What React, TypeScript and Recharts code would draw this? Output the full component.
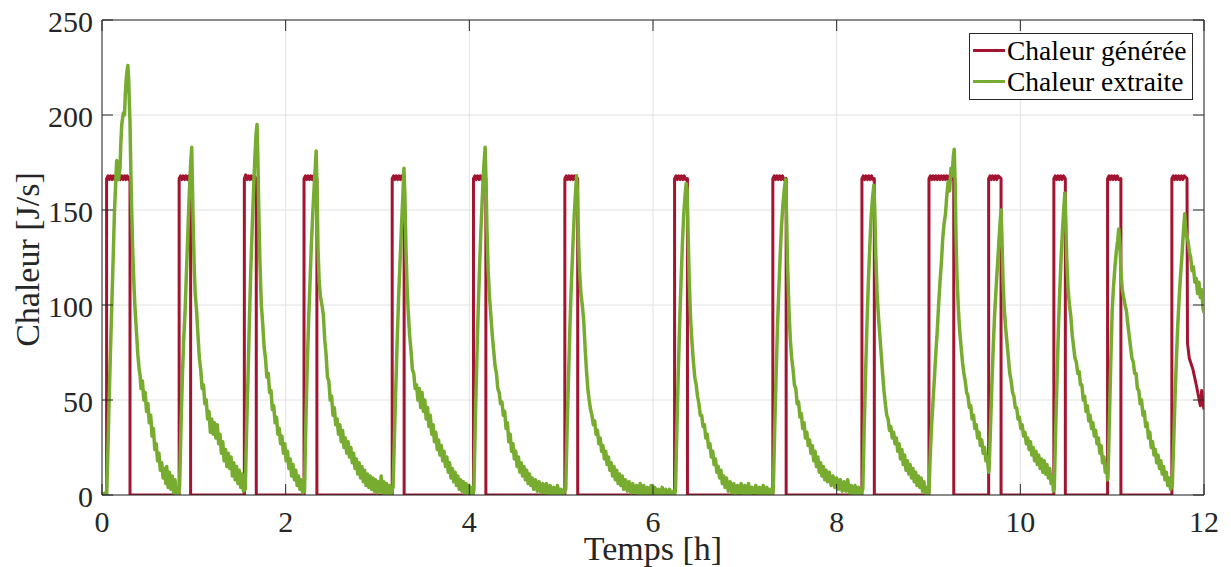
import React from "react";
import {
  LineChart,
  Line,
  XAxis,
  YAxis,
  CartesianGrid,
  ReferenceLine,
  Legend,
  Label,
} from "recharts";

// ---------- tick labels ----------
const timeTicks = [0, 2, 4, 6, 8, 10, 12];
const heatTicks = [0, 50, 100, 150, 200, 250];

// ---------- series: Chaleur générée [h, J/s] ----------
const generatedHeat: [number, number][] = [
  [0, 0], [0.05, 0], [0.05, 166.5], [0.065, 168], [0.08, 166], [0.095, 168], [0.11, 166], [0.125, 168], [0.14, 166],
  [0.155, 168], [0.17, 166], [0.185, 168], [0.2, 166], [0.215, 168], [0.23, 166], [0.245, 168], [0.26, 166],
  [0.275, 168], [0.29, 166], [0.305, 167], [0.305, 0],
  [0.84, 0], [0.84, 166.5], [0.855, 168], [0.87, 166], [0.885, 168], [0.9, 166], [0.915, 168], [0.93, 166],
  [0.945, 168], [0.965, 166.5], [0.965, 0],
  [1.55, 0], [1.55, 166.5], [1.565, 168.5], [1.58, 166], [1.595, 168], [1.61, 166], [1.625, 168], [1.64, 166],
  [1.655, 168], [1.68, 166.5], [1.68, 0],
  [2.2, 0], [2.2, 166.5], [2.215, 168], [2.23, 166], [2.245, 168], [2.26, 166], [2.275, 168], [2.29, 166],
  [2.305, 168], [2.32, 166], [2.34, 166.5], [2.34, 0],
  [3.16, 0], [3.16, 166.5], [3.175, 168], [3.19, 166], [3.205, 168], [3.22, 166], [3.235, 168], [3.25, 166],
  [3.265, 168], [3.29, 166.5], [3.29, 0],
  [4.045, 0], [4.045, 166.5], [4.06, 168], [4.075, 166], [4.09, 168], [4.105, 166], [4.12, 168], [4.135, 166],
  [4.15, 168], [4.165, 166], [4.18, 166.5], [4.18, 0],
  [5.04, 0], [5.04, 166.5], [5.055, 168], [5.07, 166], [5.085, 168], [5.1, 166], [5.115, 168], [5.13, 166],
  [5.145, 168], [5.16, 166], [5.18, 166.5], [5.18, 0],
  [6.235, 0], [6.235, 166.5], [6.25, 168], [6.265, 166], [6.28, 168], [6.295, 166], [6.31, 168], [6.325, 166],
  [6.34, 168], [6.355, 166], [6.375, 166.5], [6.375, 0],
  [7.305, 0], [7.305, 166.5], [7.32, 168], [7.335, 166], [7.35, 168], [7.365, 166], [7.38, 168], [7.395, 166],
  [7.41, 168], [7.425, 166], [7.45, 166.5], [7.45, 0],
  [8.275, 0], [8.275, 166.5], [8.29, 168], [8.305, 166], [8.32, 168], [8.335, 166], [8.35, 168], [8.365, 166],
  [8.38, 168], [8.395, 166], [8.41, 166.5], [8.41, 0],
  [9.005, 0], [9.005, 166.5], [9.02, 168], [9.035, 166], [9.05, 168], [9.065, 166], [9.08, 168], [9.095, 166],
  [9.11, 168], [9.125, 166], [9.14, 168], [9.155, 166], [9.17, 168], [9.185, 166], [9.2, 168], [9.215, 166],
  [9.23, 168], [9.245, 166], [9.26, 168], [9.275, 166.5], [9.275, 0],
  [9.655, 0], [9.655, 166.5], [9.67, 168], [9.685, 166], [9.7, 168], [9.715, 166], [9.73, 168], [9.745, 166],
  [9.76, 168], [9.79, 166.5], [9.79, 0],
  [10.365, 0], [10.365, 166.5], [10.38, 168], [10.395, 166], [10.41, 168], [10.425, 166], [10.44, 168],
  [10.455, 166], [10.47, 168], [10.49, 166.5], [10.49, 0],
  [10.95, 0], [10.95, 166.5], [10.965, 168], [10.98, 166], [10.995, 168], [11.01, 166], [11.025, 168],
  [11.04, 166], [11.055, 168], [11.07, 166], [11.095, 166.5], [11.095, 0],
  [11.65, 0], [11.65, 166.5], [11.665, 168], [11.68, 166], [11.695, 168], [11.71, 166], [11.725, 168],
  [11.74, 166], [11.755, 168], [11.77, 166], [11.785, 168], [11.815, 166.5], [11.82, 80], [11.84, 72],
  [11.88, 66], [11.92, 57], [11.96, 47], [11.975, 55], [11.99, 48], [12, 45],
];

// ---------- series: Chaleur extraite [h, J/s], one array per cycle ----------
const extracted1: [number, number][] = [
  [0, 0], [0.03, 1], [0.05, 0], [0.06, 15], [0.075, 45], [0.09, 72], [0.105, 97], [0.12, 122], [0.135, 148],
  [0.15, 165], [0.16, 176], [0.17, 170], [0.18, 166], [0.196, 172], [0.205, 185], [0.215, 195], [0.232, 201],
  [0.245, 200], [0.255, 212], [0.265, 220], [0.275, 224], [0.282, 226], [0.29, 219], [0.298, 206], [0.305, 196],
  [0.315, 168], [0.323, 150], [0.335, 128], [0.35, 108], [0.36, 98], [0.375, 86], [0.39, 74], [0.405, 66],
  [0.415, 63], [0.425, 56], [0.44, 60], [0.455, 50], [0.47, 54], [0.485, 44], [0.5, 48], [0.515, 38], [0.53, 42],
  [0.545, 31], [0.56, 35], [0.575, 24], [0.59, 27], [0.605, 18], [0.62, 22], [0.635, 13], [0.65, 17], [0.665, 9],
  [0.68, 14], [0.695, 6], [0.705, 15], [0.72, 4], [0.735, 12], [0.75, 3], [0.765, 10], [0.78, 1], [0.795, 8],
  [0.81, 0], [0.825, 4], [0.835, 0],
];
const extracted2: [number, number][] = [
  [0.845, 5], [0.86, 35], [0.875, 62], [0.89, 82], [0.905, 97], [0.92, 118], [0.935, 138], [0.95, 158], [0.965, 174],
  [0.977, 183], [0.985, 162], [0.995, 138], [1.005, 118], [1.015, 106], [1.03, 97], [1.045, 84], [1.06, 72],
  [1.075, 66], [1.09, 56], [1.105, 58], [1.12, 48], [1.135, 50], [1.15, 40], [1.165, 44], [1.18, 33], [1.195, 40],
  [1.21, 32], [1.225, 38], [1.24, 30], [1.255, 37], [1.27, 27], [1.285, 32], [1.3, 22], [1.315, 28], [1.33, 18],
  [1.345, 24], [1.36, 15], [1.375, 22], [1.39, 14], [1.405, 20], [1.42, 10], [1.435, 17], [1.45, 8], [1.465, 15],
  [1.48, 6], [1.495, 13], [1.51, 4], [1.525, 11], [1.54, 2], [1.55, 6],
];
const extracted3: [number, number][] = [
  [1.56, 3], [1.575, 35], [1.59, 62], [1.605, 92], [1.62, 118], [1.635, 140], [1.65, 160], [1.665, 178], [1.678, 190],
  [1.688, 195], [1.697, 178], [1.707, 150], [1.72, 122], [1.735, 100], [1.75, 90], [1.765, 78], [1.78, 72],
  [1.795, 62], [1.81, 64], [1.825, 54], [1.84, 55], [1.855, 45], [1.87, 47], [1.885, 38], [1.9, 41], [1.915, 32],
  [1.93, 35], [1.945, 27], [1.96, 31], [1.975, 22], [1.99, 27], [2.005, 18], [2.02, 23], [2.035, 14], [2.05, 19],
  [2.065, 10], [2.08, 16], [2.095, 8], [2.11, 13], [2.125, 5], [2.14, 10], [2.155, 3], [2.17, 8], [2.185, 1], [2.2, 4],
];
const extracted4: [number, number][] = [
  [2.205, 2], [2.22, 38], [2.235, 68], [2.25, 92], [2.265, 112], [2.28, 132], [2.295, 148], [2.31, 162], [2.322, 172],
  [2.332, 181], [2.342, 160], [2.352, 130], [2.365, 112], [2.38, 104], [2.395, 100], [2.41, 95], [2.425, 82],
  [2.44, 74], [2.455, 62], [2.47, 60], [2.485, 50], [2.5, 52], [2.515, 42], [2.53, 46], [2.545, 37], [2.56, 40],
  [2.575, 32], [2.59, 37], [2.605, 28], [2.62, 34], [2.635, 25], [2.65, 30], [2.665, 22], [2.68, 28], [2.695, 20],
  [2.71, 25], [2.725, 17], [2.74, 22], [2.755, 14], [2.77, 19], [2.785, 11], [2.8, 17], [2.815, 9], [2.83, 15],
  [2.845, 7], [2.86, 13], [2.875, 5], [2.89, 11], [2.905, 4], [2.92, 10], [2.935, 3], [2.95, 9], [2.965, 2],
  [2.98, 8], [2.995, 1], [3.01, 7], [3.025, 2], [3.04, 10], [3.055, 1], [3.07, 7], [3.085, 0], [3.1, 6],
  [3.115, 0], [3.13, 5], [3.145, 0], [3.16, 3],
];
const extracted5: [number, number][] = [
  [3.17, 4], [3.185, 32], [3.2, 58], [3.215, 82], [3.23, 104], [3.245, 122], [3.26, 140], [3.275, 156], [3.288, 172],
  [3.298, 158], [3.31, 130], [3.322, 110], [3.335, 96], [3.35, 84], [3.365, 76], [3.38, 66], [3.395, 64], [3.41, 56],
  [3.425, 58], [3.44, 50], [3.455, 56], [3.47, 46], [3.485, 54], [3.5, 44], [3.515, 50], [3.53, 40], [3.545, 46],
  [3.56, 36], [3.575, 42], [3.59, 32], [3.605, 37], [3.62, 28], [3.635, 33], [3.65, 24], [3.665, 29], [3.68, 21],
  [3.695, 26], [3.71, 18], [3.725, 23], [3.74, 15], [3.755, 20], [3.77, 12], [3.785, 17], [3.8, 9], [3.815, 14],
  [3.83, 7], [3.845, 12], [3.86, 5], [3.875, 10], [3.89, 3], [3.905, 8], [3.92, 2], [3.935, 7], [3.95, 1],
  [3.965, 6], [3.98, 0], [3.995, 5], [4.01, 0], [4.025, 4], [4.04, 0],
];
const extracted6: [number, number][] = [
  [4.05, 3], [4.065, 38], [4.08, 68], [4.095, 95], [4.11, 118], [4.125, 138], [4.14, 155], [4.152, 168], [4.162, 176],
  [4.172, 183], [4.182, 165], [4.192, 140], [4.205, 118], [4.22, 104], [4.235, 94], [4.25, 84], [4.265, 76],
  [4.28, 68], [4.295, 64], [4.31, 56], [4.325, 54], [4.34, 48], [4.355, 49], [4.37, 42], [4.385, 44], [4.4, 35],
  [4.415, 38], [4.43, 28], [4.445, 32], [4.46, 23], [4.475, 27], [4.49, 19], [4.505, 23], [4.52, 15], [4.535, 20],
  [4.55, 12], [4.565, 17], [4.58, 10], [4.595, 15], [4.61, 8], [4.625, 13], [4.64, 6], [4.655, 11], [4.67, 5],
  [4.685, 9], [4.7, 3], [4.72, 8], [4.74, 2], [4.76, 7], [4.78, 1], [4.8, 6], [4.82, 1], [4.84, 6], [4.86, 0],
  [4.88, 5], [4.9, 0], [4.92, 4], [4.94, 0], [4.96, 5], [4.98, 0], [5.0, 3], [5.02, 0], [5.04, 2],
];
const extracted7: [number, number][] = [
  [5.05, 3], [5.065, 35], [5.08, 62], [5.095, 88], [5.11, 110], [5.125, 128], [5.14, 145], [5.155, 158], [5.168, 168],
  [5.178, 158], [5.19, 132], [5.2, 118], [5.215, 106], [5.23, 100], [5.245, 92], [5.26, 78], [5.275, 66], [5.29, 56],
  [5.305, 50], [5.32, 45], [5.335, 42], [5.35, 37], [5.365, 39], [5.38, 32], [5.395, 34], [5.41, 27], [5.425, 30],
  [5.44, 23], [5.455, 26], [5.47, 19], [5.485, 23], [5.5, 16], [5.515, 20], [5.53, 13], [5.545, 17], [5.56, 10],
  [5.575, 15], [5.59, 8], [5.605, 13], [5.62, 6], [5.635, 11], [5.65, 5], [5.665, 10], [5.68, 3], [5.7, 8],
  [5.72, 2], [5.74, 7], [5.76, 1], [5.78, 6], [5.8, 1], [5.82, 5], [5.84, 0], [5.86, 6], [5.88, 0], [5.9, 5],
  [5.92, 0], [5.94, 4], [5.96, 0], [5.98, 5], [6.0, 0], [6.02, 4], [6.04, 0], [6.06, 3], [6.08, 0], [6.1, 4],
  [6.12, 0], [6.14, 3], [6.16, 0], [6.18, 3], [6.2, 0], [6.22, 2], [6.235, 0],
];
const extracted8: [number, number][] = [
  [6.245, 3], [6.26, 35], [6.275, 64], [6.29, 90], [6.305, 112], [6.32, 132], [6.335, 148], [6.35, 158], [6.362, 164],
  [6.372, 160], [6.382, 138], [6.395, 112], [6.41, 92], [6.425, 80], [6.44, 70], [6.455, 62], [6.47, 58],
  [6.485, 52], [6.5, 48], [6.515, 42], [6.53, 42], [6.545, 36], [6.56, 37], [6.575, 30], [6.59, 32], [6.605, 25],
  [6.62, 27], [6.635, 20], [6.65, 23], [6.665, 16], [6.68, 19], [6.695, 12], [6.71, 15], [6.725, 9], [6.74, 13],
  [6.755, 6], [6.77, 10], [6.785, 4], [6.8, 9], [6.82, 2], [6.84, 7], [6.86, 1], [6.88, 6], [6.9, 0], [6.92, 5],
  [6.94, 1], [6.96, 6], [6.98, 0], [7.0, 5], [7.02, 0], [7.04, 6], [7.06, 0], [7.08, 4], [7.1, 1], [7.12, 5],
  [7.14, 0], [7.16, 4], [7.18, 0], [7.2, 5], [7.22, 0], [7.24, 4], [7.26, 0], [7.28, 3], [7.3, 0],
];
const extracted9: [number, number][] = [
  [7.31, 3], [7.325, 34], [7.34, 62], [7.355, 88], [7.37, 108], [7.385, 126], [7.4, 142], [7.415, 153], [7.43, 161],
  [7.443, 166], [7.453, 150], [7.465, 122], [7.48, 98], [7.495, 82], [7.51, 72], [7.525, 66], [7.54, 58],
  [7.555, 56], [7.57, 48], [7.585, 49], [7.6, 41], [7.615, 43], [7.63, 35], [7.645, 38], [7.66, 30], [7.675, 33],
  [7.69, 26], [7.705, 29], [7.72, 22], [7.735, 26], [7.75, 18], [7.765, 23], [7.78, 15], [7.795, 20], [7.81, 12],
  [7.825, 17], [7.84, 10], [7.855, 15], [7.87, 8], [7.885, 13], [7.9, 7], [7.92, 12], [7.94, 5], [7.96, 10],
  [7.98, 4], [8.0, 9], [8.02, 3], [8.04, 8], [8.06, 2], [8.08, 7], [8.1, 2], [8.12, 8], [8.14, 1], [8.16, 5],
  [8.18, 0], [8.2, 5], [8.22, 0], [8.24, 4], [8.26, 0], [8.275, 2],
];
const extracted10: [number, number][] = [
  [8.285, 3], [8.3, 36], [8.315, 64], [8.33, 90], [8.345, 112], [8.36, 130], [8.375, 146], [8.39, 156], [8.405, 163],
  [8.415, 150], [8.425, 128], [8.44, 106], [8.455, 94], [8.47, 84], [8.485, 74], [8.5, 64], [8.515, 55], [8.53, 48],
  [8.545, 42], [8.56, 40], [8.575, 34], [8.59, 36], [8.605, 30], [8.62, 33], [8.635, 27], [8.65, 30], [8.665, 23],
  [8.68, 27], [8.695, 19], [8.71, 24], [8.725, 16], [8.74, 21], [8.755, 13], [8.77, 18], [8.785, 11], [8.8, 16],
  [8.815, 9], [8.83, 14], [8.845, 7], [8.86, 12], [8.875, 5], [8.89, 10], [8.905, 4], [8.92, 9], [8.935, 2],
  [8.95, 7], [8.965, 1], [8.98, 4], [8.995, 0],
];
const extracted11: [number, number][] = [
  [9.005, 2], [9.02, 22], [9.035, 38], [9.05, 50], [9.065, 62], [9.08, 75], [9.095, 86], [9.11, 100], [9.125, 112],
  [9.14, 122], [9.155, 135], [9.17, 143], [9.185, 148], [9.2, 158], [9.215, 165], [9.23, 160], [9.245, 172],
  [9.258, 168], [9.27, 178], [9.28, 182], [9.29, 165], [9.3, 135], [9.31, 115], [9.325, 98], [9.34, 86],
  [9.355, 78], [9.37, 70], [9.385, 64], [9.4, 60], [9.415, 54], [9.43, 52], [9.445, 46], [9.46, 47], [9.475, 40],
  [9.49, 42], [9.505, 35], [9.52, 37], [9.535, 30], [9.55, 33], [9.565, 26], [9.58, 29], [9.595, 22], [9.61, 25],
  [9.625, 18], [9.64, 20], [9.655, 12],
];
const extracted12: [number, number][] = [
  [9.66, 14], [9.675, 35], [9.69, 58], [9.705, 78], [9.72, 95], [9.735, 108], [9.75, 120], [9.765, 132], [9.778, 142],
  [9.79, 150], [9.8, 135], [9.812, 112], [9.825, 98], [9.84, 88], [9.855, 80], [9.87, 72], [9.885, 64], [9.9, 60],
  [9.915, 54], [9.93, 52], [9.945, 46], [9.96, 46], [9.975, 40], [9.99, 41], [10.005, 35], [10.02, 37],
  [10.035, 31], [10.05, 33], [10.065, 27], [10.08, 30], [10.095, 24], [10.11, 28], [10.125, 21], [10.14, 25],
  [10.155, 18], [10.17, 23], [10.185, 16], [10.2, 21], [10.215, 14], [10.23, 19], [10.245, 12], [10.26, 18],
  [10.275, 11], [10.29, 16], [10.305, 9], [10.32, 14], [10.335, 6], [10.35, 10], [10.36, 2],
];
const extracted13: [number, number][] = [
  [10.37, 4], [10.385, 35], [10.4, 62], [10.415, 88], [10.43, 108], [10.445, 126], [10.46, 140], [10.472, 150],
  [10.485, 159], [10.495, 145], [10.505, 125], [10.52, 108], [10.535, 100], [10.55, 94], [10.565, 84], [10.58, 78],
  [10.595, 72], [10.61, 70], [10.625, 64], [10.64, 65], [10.655, 58], [10.67, 58], [10.685, 50], [10.7, 52],
  [10.715, 44], [10.73, 47], [10.745, 39], [10.76, 42], [10.775, 35], [10.79, 38], [10.805, 31], [10.82, 34],
  [10.835, 27], [10.85, 30], [10.865, 22], [10.88, 26], [10.895, 17], [10.91, 20], [10.925, 12], [10.94, 14],
  [10.95, 8],
];
const extracted14: [number, number][] = [
  [10.955, 10], [10.97, 40], [10.985, 70], [11.0, 97], [11.015, 110], [11.03, 120], [11.045, 128], [11.06, 134],
  [11.072, 140], [11.085, 132], [11.095, 118], [11.11, 108], [11.125, 104], [11.14, 100], [11.155, 97], [11.17, 90],
  [11.185, 84], [11.2, 78], [11.215, 72], [11.23, 70], [11.245, 64], [11.26, 64], [11.275, 56], [11.29, 55],
  [11.305, 48], [11.32, 50], [11.335, 42], [11.35, 44], [11.365, 36], [11.38, 38], [11.395, 30], [11.41, 33],
  [11.425, 25], [11.44, 28], [11.455, 21], [11.47, 24], [11.485, 17], [11.5, 21], [11.515, 14], [11.53, 18],
  [11.545, 11], [11.56, 15], [11.575, 8], [11.59, 12], [11.605, 5], [11.62, 9], [11.635, 3], [11.645, 4],
];
const extracted15: [number, number][] = [
  [11.655, 5], [11.67, 28], [11.685, 52], [11.7, 72], [11.715, 90], [11.73, 104], [11.745, 116], [11.76, 126],
  [11.775, 138], [11.79, 148], [11.8, 140], [11.812, 136], [11.825, 134], [11.84, 128], [11.855, 125], [11.87, 118],
  [11.885, 120], [11.9, 112], [11.915, 114], [11.93, 106], [11.945, 112], [11.96, 104], [11.975, 108], [11.99, 98],
  [12.0, 96],
];

const extractedCycles = [
  extracted1, extracted2, extracted3, extracted4, extracted5, extracted6, extracted7, extracted8,
  extracted9, extracted10, extracted11, extracted12, extracted13, extracted14, extracted15,
];

const toRows = (pts: [number, number][]) => pts.map(([t, v]) => ({ t, v }));
const generatedRows = toRows(generatedHeat);
const extractedRows = toRows(extractedCycles.flat());

// ---------- styling / layout ----------
const RED = "#A2142F";
const GREEN = "#77AC30";
const AXIS = "#262626";
const FONT = "Liberation Serif";
const W = 1231;
const H = 567;
const M = { top: 20, right: 27, bottom: 12, left: 2 };
const Y_AXIS_W = 100;
const X_AXIS_H = 60;
const PLOT_W = W - M.left - M.right - Y_AXIS_W;
const PLOT_H = H - M.top - M.bottom - X_AXIS_H;
const TICK_LEN = 11;

const XTick = (props: any) => {
  const { x, y, payload } = props;
  return (
    <g>
      <line x1={x} x2={x} y1={y} y2={y - TICK_LEN} stroke={AXIS} strokeWidth={1} />
      <line x1={x} x2={x} y1={y - PLOT_H} y2={y - PLOT_H + TICK_LEN} stroke={AXIS} strokeWidth={1} />
      <text x={x} y={y + 36.5} textAnchor="middle" fontSize={30} fill={AXIS} fontFamily={FONT}>
        {payload.value}
      </text>
    </g>
  );
};

const YTick = (props: any) => {
  const { x, y, payload } = props;
  return (
    <g>
      <line x1={x} x2={x + TICK_LEN} y1={y} y2={y} stroke={AXIS} strokeWidth={1} />
      <line x1={x + PLOT_W} x2={x + PLOT_W - TICK_LEN} y1={y} y2={y} stroke={AXIS} strokeWidth={1} />
      <text x={x - 9} y={y + 11.5} textAnchor="end" fontSize={30} fill={AXIS} fontFamily={FONT}>
        {payload.value}
      </text>
    </g>
  );
};

const legendItems = [
  { name: "Chaleur générée", color: RED },
  { name: "Chaleur extraite", color: GREEN },
];

const LegendBox = () => (
  <div
    style={{
      border: `1px solid ${AXIS}`,
      background: "#fff",
      padding: "1px 6px 2px 3px",
      fontFamily: FONT,
      fontSize: 27.5,
      lineHeight: "31px",
      color: "#000",
      whiteSpace: "nowrap",
    }}
  >
    {legendItems.map((it) => (
      <div key={it.name} style={{ display: "flex", alignItems: "center" }}>
        <span style={{ display: "inline-block", width: 32, height: 3, background: it.color, marginRight: 2 }} />
        <span>{it.name}</span>
      </div>
    ))}
  </div>
);

export default function App() {
  return (
    <div style={{ position: "absolute", left: 0, top: 0, width: W, height: H, background: "#fff" }}>
      <LineChart width={W} height={H} margin={M} style={{ fontFamily: FONT }}>
        <CartesianGrid stroke="#e2e2e2" strokeWidth={1} />
        <XAxis
          dataKey="t"
          type="number"
          domain={[0, 12]}
          ticks={timeTicks}
          interval={0}
          allowDataOverflow
          height={X_AXIS_H}
          tickSize={0}
          tickMargin={0}
          tickLine={false}
          axisLine={{ stroke: AXIS, strokeWidth: 1 }}
          tick={<XTick />}
        >
          <Label
            content={(p: any) => {
              const vb = p.viewBox || {};
              return (
                <text
                  x={vb.x + vb.width / 2}
                  y={vb.y + 65}
                  textAnchor="middle"
                  fontSize={34}
                  fill={AXIS}
                  fontFamily={FONT}
                >
                  Temps [h]
                </text>
              );
            }}
          />
        </XAxis>
        <YAxis
          type="number"
          domain={[0, 250]}
          ticks={heatTicks}
          interval={0}
          allowDataOverflow
          width={Y_AXIS_W}
          tickSize={0}
          tickMargin={0}
          tickLine={false}
          axisLine={{ stroke: AXIS, strokeWidth: 1 }}
          tick={<YTick />}
        >
          <Label
            content={(p: any) => {
              const vb = p.viewBox || {};
              const cx = vb.x + 36.5;
              const cy = vb.y + vb.height / 2 + 2;
              return (
                <text
                  x={cx}
                  y={cy}
                  transform={`rotate(-90, ${cx}, ${cy})`}
                  textAnchor="middle"
                  fontSize={34}
                  fill={AXIS}
                  fontFamily={FONT}
                >
                  Chaleur [J/s]
                </text>
              );
            }}
          />
        </YAxis>
        <ReferenceLine y={250} stroke={AXIS} strokeWidth={1} ifOverflow="extendDomain" />
        <ReferenceLine x={12} stroke={AXIS} strokeWidth={1} ifOverflow="extendDomain" />
        <Line
          data={generatedRows}
          dataKey="v"
          name="Chaleur générée"
          type="linear"
          stroke={RED}
          strokeWidth={3}
          dot={false}
          activeDot={false}
          isAnimationActive={false}
          strokeLinejoin="round"
        />
        <Line
          data={extractedRows}
          dataKey="v"
          name="Chaleur extraite"
          type="linear"
          stroke={GREEN}
          strokeWidth={3.5}
          dot={false}
          activeDot={false}
          isAnimationActive={false}
          strokeLinejoin="round"
        />
        <Legend
          layout="vertical"
          align="center"
          verticalAlign="middle"
          content={() => <LegendBox />}
          wrapperStyle={{ left: 969, top: 33, width: "auto", height: "auto" }}
        />
      </LineChart>
    </div>
  );
}
